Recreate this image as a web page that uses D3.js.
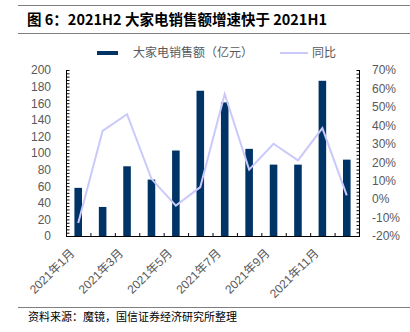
<!DOCTYPE html>
<html>
<head>
<meta charset="utf-8">
<script src="https://cdn.jsdelivr.net/npm/d3@7"></script>
<style>
  html, body { margin: 0; padding: 0; background: #fff; }
  svg { display: block; font-family: "Liberation Sans", Arial, "Noto Sans CJK SC", sans-serif; }
</style>
</head>
<body>
<svg id="chart" width="410" height="332"></svg>
<script>
// Monthly major-appliance sales (100M CNY) and year-on-year growth, 2021
const months = ["2021年1月","2021年2月","2021年3月","2021年4月","2021年5月","2021年6月",
                "2021年7月","2021年8月","2021年9月","2021年10月","2021年11月","2021年12月"];
const sales = [58, 35, 84, 68, 103, 175, 161, 105, 86, 86, 187, 92];
const yoy = [-13, 37, 46, 11, -3.5, 6.5, 57, 16, 30, 21, 38.5, 2];
const leftTicks = [0, 20, 40, 60, 80, 100, 120, 140, 160, 180, 200];
const rightTicks = [-20, -10, 0, 10, 20, 30, 40, 50, 60, 70];

const titleText = "图 6：2021H2 大家电销售额增速快于 2021H1";
const sourceText = "资料来源：魔镜，国信证券经济研究所整理";
const legendBar = "大家电销售额（亿元）";
const legendLine = "同比";

const svg = d3.select("#chart");
const plot = { left: 66, right: 359, top: 70, bottom: 236 };
const barColor = "#013466";
const lineColor = "#c9c9fb";
const textColor = "#595959";
const cjk = "'Noto Sans CJK SC', sans-serif";
const latin = "'Liberation Sans', Arial, 'Noto Sans CJK SC', sans-serif";

// Header rules and title
svg.append("line").attr("x1", 18).attr("x2", 410).attr("y1", 5.5).attr("y2", 5.5)
  .attr("stroke", "#7f7f7f").attr("stroke-width", 1);
svg.append("line").attr("x1", 18).attr("x2", 410).attr("y1", 33.5).attr("y2", 33.5)
  .attr("stroke", "#7f7f7f").attr("stroke-width", 1);
svg.append("text").attr("x", 27).attr("y", 25)
  .attr("font-family", cjk).attr("font-weight", "bold").attr("font-size", 14.5)
  .attr("fill", "#000").text(titleText);

// Footer
svg.append("line").attr("x1", 18).attr("x2", 410).attr("y1", 307.5).attr("y2", 307.5)
  .attr("stroke", "#7f7f7f").attr("stroke-width", 1);
svg.append("text").attr("x", 28).attr("y", 321)
  .attr("font-family", cjk).attr("font-size", 11).attr("fill", "#000").text(sourceText);

// Scales
const x = d3.scaleBand().domain(months).range([plot.left, plot.right]).paddingInner(0).paddingOuter(0);
const yL = d3.scaleLinear().domain([0, 200]).range([plot.bottom, plot.top]);
const yR = d3.scaleLinear().domain([-20, 70]).range([plot.bottom, plot.top]);

// Bars
svg.append("g").selectAll("rect").data(sales).join("rect")
  .attr("x", (d, i) => x(months[i]) + x.bandwidth() * 0.345)
  .attr("width", x.bandwidth() * 0.31)
  .attr("y", d => yL(d))
  .attr("height", d => yL(0) - yL(d))
  .attr("fill", barColor);

// YoY line
const line = d3.line()
  .x((d, i) => x(months[i]) + x.bandwidth() / 2)
  .y(d => yR(d));
svg.append("path").datum(yoy).attr("d", line)
  .attr("fill", "none").attr("stroke", lineColor).attr("stroke-width", 2);

function styleAxis(g) {
  g.select(".domain").remove();
  g.selectAll(".tick line").attr("stroke", "#000");
  g.selectAll(".tick text").attr("fill", textColor).attr("font-size", 12).attr("font-family", latin);
}

// Left axis: minor ticks every 4, labels every 20
const gLm = svg.append("g").attr("transform", `translate(${plot.left + 0.5},0)`)
  .call(d3.axisRight(yL).tickValues(d3.range(0, 201, 4)).tickSize(3).tickFormat(""));
styleAxis(gLm);
const gL = svg.append("g").attr("transform", `translate(${plot.left},0)`)
  .call(d3.axisLeft(yL).tickValues(leftTicks).tickSize(0).tickPadding(15).tickFormat(d3.format("d")));
styleAxis(gL);
svg.append("line").attr("x1", plot.left + 0.5).attr("x2", plot.left + 0.5)
  .attr("y1", plot.top).attr("y2", plot.bottom).attr("stroke", "#000");

// Right axis: minor ticks every 2%, labels every 10%
const gRm = svg.append("g").attr("transform", `translate(${plot.right + 0.5},0)`)
  .call(d3.axisLeft(yR).tickValues(d3.range(-20, 70.1, 2)).tickSize(3).tickFormat(""));
styleAxis(gRm);
const gR = svg.append("g").attr("transform", `translate(${plot.right},0)`)
  .call(d3.axisRight(yR).tickValues(rightTicks).tickSize(0).tickPadding(13).tickFormat(d => d + "%"));
styleAxis(gR);
svg.append("line").attr("x1", plot.right + 0.5).attr("x2", plot.right + 0.5)
  .attr("y1", plot.top).attr("y2", plot.bottom).attr("stroke", "#000");

// Bottom axis: ticks at band boundaries pointing up
const gB = svg.append("g");
gB.append("line").attr("x1", plot.left).attr("x2", plot.right + 1)
  .attr("y1", plot.bottom + 0.5).attr("y2", plot.bottom + 0.5).attr("stroke", "#000");
gB.selectAll("line.bt").data(months.slice(1)).join("line").attr("class", "bt")
  .attr("x1", d => x(d) + 0.5).attr("x2", d => x(d) + 0.5)
  .attr("y1", plot.bottom).attr("y2", plot.bottom - 3).attr("stroke", "#000");

// Rotated month labels on odd months
gB.selectAll("text").data(months.filter((d, i) => i % 2 === 0)).join("text")
  .attr("transform", d => `translate(${x(d) + x.bandwidth() / 2 - 3},${plot.bottom + 18}) rotate(-45)`)
  .attr("text-anchor", "end")
  .attr("font-size", 12)
  .attr("font-family", latin)
  .attr("fill", textColor)
  .text(d => d);

// Legend
const lg = svg.append("g");
lg.append("rect").attr("x", 97).attr("y", 51).attr("width", 21).attr("height", 4).attr("fill", barColor);
lg.append("text").attr("x", 133).attr("y", 57).attr("font-family", cjk).attr("font-size", 12)
  .attr("fill", textColor).text(legendBar);
lg.append("line").attr("x1", 280).attr("x2", 308).attr("y1", 53).attr("y2", 53)
  .attr("stroke", lineColor).attr("stroke-width", 2);
lg.append("text").attr("x", 312).attr("y", 57).attr("font-family", cjk).attr("font-size", 12)
  .attr("fill", textColor).text(legendLine);
</script>
</body>
</html>
